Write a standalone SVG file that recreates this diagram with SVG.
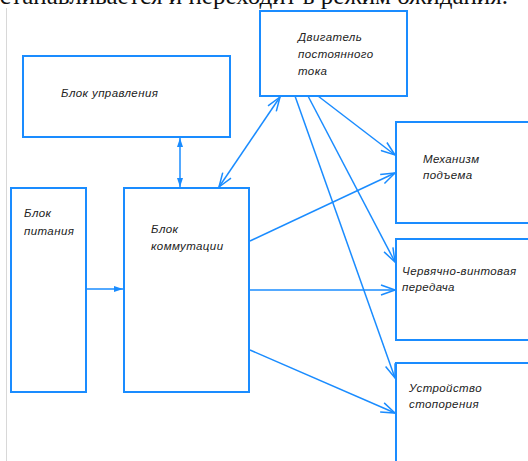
<svg xmlns="http://www.w3.org/2000/svg" width="528" height="461" viewBox="0 0 528 461">
<style>
.box{fill:#fff;stroke:#1a8cff;stroke-width:2}
.lbl{font-family:"Liberation Sans",Arial,sans-serif;font-style:italic;font-size:11.5px;fill:#222;letter-spacing:0.4px}
.con{stroke:#1a8cff;stroke-width:1.5;fill:none}
</style>
<defs>
<marker id="open" markerUnits="userSpaceOnUse" markerWidth="16" markerHeight="12" viewBox="0 0 16 12" refX="15" refY="6" orient="auto-start-reverse">
<path d="M1,1 L15,6 L1,11" fill="none" stroke="#1a8cff" stroke-width="1.5"/>
</marker>
<marker id="fill" markerUnits="userSpaceOnUse" markerWidth="10" markerHeight="8" viewBox="0 0 10 8" refX="9" refY="4" orient="auto-start-reverse">
<path d="M0,1 L9,4 L0,7 Z" fill="#1a8cff"/>
</marker>
</defs>
<rect width="528" height="461" fill="#fff"/>
<text x="508" y="4" text-anchor="end" font-family="Liberation Serif,serif" font-size="25" fill="#111">останавливается и переходит в режим ожидания.</text>
<line x1="6.5" y1="8" x2="6.5" y2="461" stroke="#d8d8d8" stroke-width="1"/>

<g id="connectors">
<line class="con" x1="180" y1="138" x2="180" y2="187" marker-start="url(#fill)" marker-end="url(#fill)"/>
<line class="con" x1="219" y1="187" x2="280" y2="97" marker-start="url(#open)" marker-end="url(#open)"/>
<line class="con" x1="87" y1="289" x2="123" y2="289" marker-end="url(#fill)"/>
<line class="con" x1="318" y1="96" x2="395" y2="155" marker-end="url(#open)"/>
<line class="con" x1="308" y1="96" x2="395" y2="262" marker-end="url(#open)"/>
<line class="con" x1="295" y1="96" x2="395" y2="378" marker-end="url(#open)"/>
<line class="con" x1="250" y1="241" x2="395" y2="173" marker-end="url(#open)"/>
<line class="con" x1="250" y1="290" x2="395" y2="290" marker-end="url(#open)"/>
<line class="con" x1="250" y1="350" x2="395" y2="413" marker-end="url(#open)"/>
</g>

<g id="motor">
<rect class="box" x="260" y="11" width="147" height="85"/>
<text class="lbl" x="298" y="41">Двигатель</text>
<text class="lbl" x="298" y="58">постоянного</text>
<text class="lbl" x="298" y="75">тока</text>
</g>
<g id="control">
<rect class="box" x="23" y="56" width="207" height="81"/>
<text class="lbl" x="61" y="97">Блок управления</text>
</g>
<g id="power">
<rect class="box" x="11" y="188" width="75" height="204"/>
<text class="lbl" x="24" y="217">Блок</text>
<text class="lbl" x="24" y="235">питания</text>
</g>
<g id="switch">
<rect class="box" x="124" y="188" width="125" height="204"/>
<text class="lbl" x="151" y="233">Блок</text>
<text class="lbl" x="151" y="250">коммутации</text>
</g>
<g id="lift">
<rect class="box" x="396" y="122" width="140" height="101"/>
<text class="lbl" x="423" y="163">Механизм</text>
<text class="lbl" x="423" y="179">подъема</text>
</g>
<g id="worm">
<rect class="box" x="396" y="239" width="140" height="101"/>
<text class="lbl" x="402" y="275">Червячно-винтовая</text>
<text class="lbl" x="402" y="291">передача</text>
</g>
<g id="stopper">
<rect class="box" x="396" y="363" width="140" height="110"/>
<text class="lbl" x="409" y="392">Устройство</text>
<text class="lbl" x="409" y="408">стопорения</text>
</g>
</svg>
